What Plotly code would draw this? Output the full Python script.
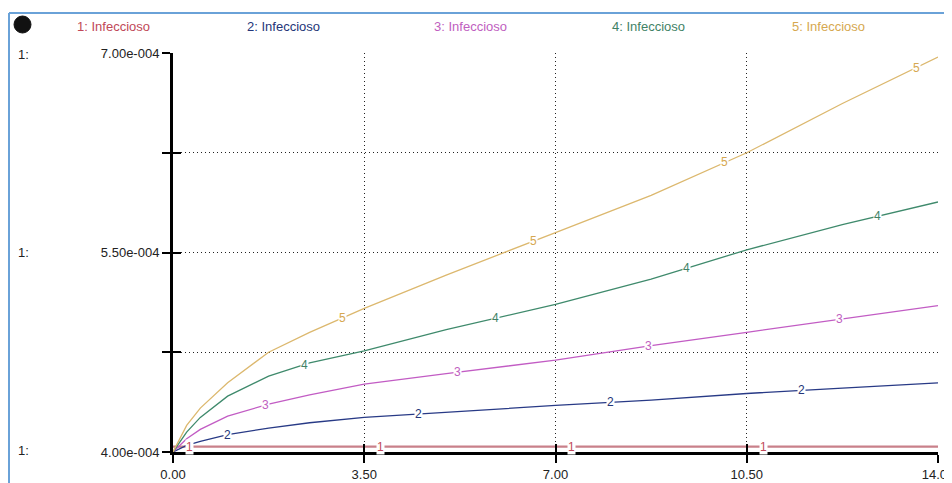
import numpy as np
import plotly.graph_objects as go

# ---- data ----
time = [0, 0.25, 0.5, 1, 1.75, 2.5, 3.5, 5, 7, 8.75, 10.5, 12.25, 14]
inf1 = [4.04] * 13
inf2 = [4.00, 4.05, 4.08, 4.13, 4.18, 4.22, 4.26, 4.30, 4.35, 4.39, 4.44, 4.48, 4.52]
inf3 = [4.00, 4.10, 4.17, 4.27, 4.36, 4.43, 4.51, 4.59, 4.69, 4.80, 4.90, 5.00, 5.10]
inf4 = [4.00, 4.15, 4.26, 4.42, 4.57, 4.67, 4.76, 4.92, 5.11, 5.30, 5.52, 5.71, 5.88]
inf5 = [4.00, 4.20, 4.33, 4.52, 4.75, 4.90, 5.08, 5.33, 5.65, 5.93, 6.25, 6.62, 6.97]
series = [inf1, inf2, inf3, inf4, inf5]
names = ["1: Infeccioso", "2: Infeccioso", "3: Infeccioso", "4: Infeccioso", "5: Infeccioso"]
ytickvals = [4.00e-4, 4.75e-4, 5.50e-4, 6.25e-4, 7.00e-4]
yticktext = ["4.00e-004", "", "5.50e-004", "", "7.00e-004"]
xtickvals = [0, 3.5, 7, 10.5, 14]
xticktext = ["0.00", "3.50", "7.00", "10.50", "14.00"]

line_colors = ["#c9808a", "#283a86", "#c25cc4", "#3f8a6c", "#dcb86e"]
text_colors = ["#c04858", "#243578", "#c060c0", "#3f8266", "#d6a850"]
label_offsets = [0.3, 1.0, 1.7, 2.4, 3.1]

OFF = 8  # page body margin
W, H = 944, 475
L, R, T, B = 165, 14, 45, 31
pw, ph = W - L - R, H - T - B

def px(xp):
    return (xp - OFF - L) / pw

def py(yp):
    return (H - B - (yp - OFF)) / ph

FONT = "Liberation Sans, Arial, sans-serif"

fig = go.Figure()
for i, s in enumerate(series):
    yv = [v * 1e-4 for v in s]
    fig.add_trace(go.Scatter(x=time, y=yv, mode="lines", name=names[i],
                             line=dict(color=line_colors[i], width=2.2 if i == 0 else 1.3),
                             showlegend=False, hoverinfo="skip", cliponaxis=False))
    for k in range(4):
        lx = label_offsets[i] + 3.5 * k
        ly = float(np.interp(lx, time, yv))
        fig.add_annotation(x=lx, y=ly, text=str(i + 1), showarrow=False,
                           xanchor="center", yanchor="middle",
                           font=dict(family=FONT, size=12, color=text_colors[i]),
                           bgcolor="white", borderpad=0)

# dummy trace for the inner tick axes
fig.add_trace(go.Scatter(x=[None], y=[None], xaxis="x2", yaxis="y2",
                         showlegend=False, hoverinfo="skip"))

# header labels
header_x = [113, 283, 470, 648, 828]
for i, nm in enumerate(names):
    fig.add_annotation(x=px(header_x[i]), y=py(27), xref="paper", yref="paper",
                       text=nm, showarrow=False, xanchor="center", yanchor="middle",
                       font=dict(family=FONT, size=13, color=text_colors[i]))

# "1:" scale labels on the left
for yp in [54, 252, 450]:
    fig.add_annotation(x=px(23), y=py(yp), xref="paper", yref="paper", text="1:",
                       showarrow=False, xanchor="center", yanchor="middle",
                       font=dict(family=FONT, size=13, color="#222"))

# black ball icon
fig.add_shape(type="circle", xref="paper", yref="paper",
              x0=px(14), x1=px(31), y0=py(33), y1=py(16),
              fillcolor="#111", line=dict(color="#111", width=1))

# blue frame
fig.add_shape(type="line", xref="paper", yref="paper",
              x0=px(9), x1=px(9), y0=py(13), y1=py(500),
              line=dict(color="#6aa2d8", width=2))
fig.add_shape(type="line", xref="paper", yref="paper",
              x0=px(9), x1=px(960), y0=py(13), y1=py(13),
              line=dict(color="#6aa2d8", width=2))

axis_common = dict(showline=True, linecolor="black", linewidth=3, automargin=False,
                   ticks="outside", ticklen=8, tickwidth=2, tickcolor="black",
                   zeroline=False, ticklabeloverflow="allow",
                   tickfont=dict(family=FONT, size=13, color="#222"))
grid = dict(showgrid=True, gridcolor="#222", griddash="1px,3px", gridwidth=1)
fig.update_layout(
    xaxis=dict(range=[0, 14], tickvals=xtickvals, ticktext=xticktext, **grid, **axis_common),
    yaxis=dict(range=[4.0e-4, 7.0e-4], tickvals=ytickvals, ticktext=yticktext, **grid, **axis_common),
    xaxis2=dict(range=[0, 14], tickvals=xtickvals, showticklabels=False, overlaying="x",
                showgrid=False, zeroline=False, showline=False, anchor="y2", side="bottom",
                automargin=False,
                ticks="inside", ticklen=8, tickwidth=2, tickcolor="black"),
    yaxis2=dict(range=[4.0e-4, 7.0e-4], tickvals=ytickvals, showticklabels=False, overlaying="y",
                showgrid=False, zeroline=False, showline=False, anchor="x2", side="left",
                automargin=False,
                ticks="inside", ticklen=8, tickwidth=2, tickcolor="black"),
    width=W, height=H, margin=dict(l=L, r=R, t=T, b=B),
    plot_bgcolor="white", paper_bgcolor="white", showlegend=False)

fig.write_html("out.html")
